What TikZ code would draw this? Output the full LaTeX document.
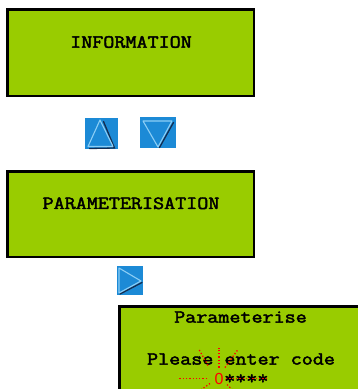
\documentclass[tikz,border=0pt]{standalone}
\usepackage{fontspec}
\newfontfamily\zerofont{Liberation Sans}
\newfontfamily\lcdfont{Latin Modern Mono}[FakeBold=2.2]
\definecolor{lcdgreen}{RGB}{153,204,0}
\definecolor{btnblue}{RGB}{28,138,214}
\definecolor{triline}{RGB}{140,206,245}
\definecolor{trishadow}{RGB}{20,45,80}
\newcommand{\lcdline}[1]{\scalebox{1.16}[1]{\lcdfont\fontsize{18.5}{20}\selectfont #1}}
\tikzset{
  lcd/.style={draw=black, line width=2.5pt, fill=lcdgreen, inner sep=0},
  lcdtext/.style={inner sep=0},
  btn/.style={fill=btnblue, inner sep=0},
  triedge/.style={draw=triline, line width=1.1pt, line join=round},
  trishade/.style={draw=trishadow, line width=1.3pt, line cap=round},
  ray/.style={draw=red, line width=1.3pt, dash pattern=on 1.3pt off 2pt}
}
\begin{document}
\begin{tikzpicture}[x=1pt,y=-1pt]
\useasboundingbox (0,0) rectangle (358,389);
\clip (0,0) rectangle (358,389);
% screen 1
\node[lcd, minimum width=246.5pt, minimum height=86.5pt] (info) at (130.5,52.5) {};
\node[lcdtext] (infotxt) at (131,42) {\lcdline{INFORMATION}};
% up / down buttons
\node[btn, minimum width=33pt, minimum height=31pt] (up) at (101.5,133.5) {};
\draw[trishade] ([shift={(2,-12)}]up.center) -- ([shift={(13,14.5)}]up.center) -- ([shift={(-12,15)}]up.center);
\draw[triedge] ([shift={(-1.5,-13.5)}]up.center) -- ([shift={(11.5,13)}]up.center) -- ([shift={(-13.5,13)}]up.center) -- cycle;
\node[btn, minimum width=36pt, minimum height=31pt] (down) at (158,132.5) {};
\draw[trishade] ([shift={(15.5,-10)}]down.center) -- ([shift={(1.5,15)}]down.center);
\draw[triedge] ([shift={(-15,-11.5)}]down.center) -- ([shift={(14,-11.5)}]down.center) -- ([shift={(0,14.5)}]down.center) -- cycle;
% screen 2
\node[lcd, minimum width=246.5pt, minimum height=85.5pt] (param) at (130.5,214) {};
\node[lcdtext] (paramtxt) at (131,203.3) {\lcdline{PARAMETERISATION}};
% right button
\node[btn, minimum width=26pt, minimum height=29pt] (right) at (130,280.5) {};
\draw[trishade] ([shift={(12,2)}]right.center) -- ([shift={(-10,13.5)}]right.center);
\draw[triedge] ([shift={(-11,-12.5)}]right.center) -- ([shift={(-11,12.5)}]right.center) -- ([shift={(11,0.5)}]right.center) -- cycle;
% screen 3
\node[lcd, minimum width=300pt, minimum height=130pt, anchor=north west] (code) at (118.25,305.25) {};
\node[lcdtext] (codetitle) at (240.5,317) {\lcdline{Parameterise}};
\node[lcdtext] (codeask) at (241,359) {\lcdline{Please enter code}};
\node[font=\zerofont\fontsize{16}{17}\selectfont, text=red, inner sep=0] (zero) at (219,378.5) {0};
\node[lcdtext, anchor=base west] (stars) at (224,384) {\lcdline{****}};
% blinking rays
\coordinate (c) at (219,378.5);
\draw[ray] ([shift={(-12,0)}]c) -- ([shift={(-41,0)}]c);
\draw[ray] ([shift={(7,0)}]c) -- ([shift={(47,0)}]c);
\draw[ray] ([shift={(0,-11)}]c) -- ([shift={(0,-31)}]c);
\draw[ray] ([shift={(-11,-13)}]c) -- ([shift={(-20,-29)}]c);
\draw[ray] ([shift={(6,-11)}]c) -- ([shift={(19,-29)}]c);
\draw[ray] ([shift={(-9,5)}]c) -- ([shift={(-19,12)}]c);
\draw[ray] ([shift={(8,6)}]c) -- ([shift={(16,14)}]c);
\end{tikzpicture}
\end{document}
